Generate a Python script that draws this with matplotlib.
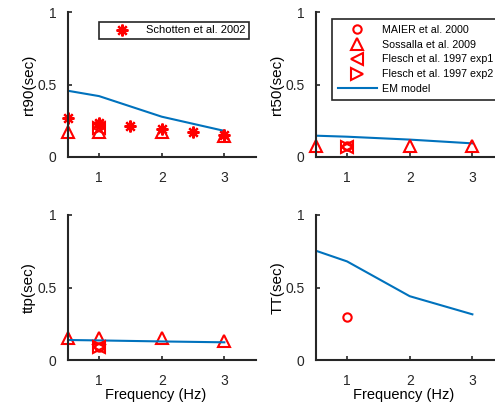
import numpy as np
import matplotlib
matplotlib.use("Agg")
import matplotlib.pyplot as plt
from matplotlib.lines import Line2D

plt.rcParams['font.family'] = ['Liberation Sans', 'DejaVu Sans']

# ======= Data =======
freq_model = [0.5, 1, 2, 3]
em_rt90 = [0.457, 0.42, 0.278, 0.18]
em_rt50 = [0.147, 0.14, 0.12, 0.094]
em_ttp = [0.138, 0.135, 0.128, 0.122]
em_tt = [0.754, 0.68, 0.44, 0.315]

schotten_freq = [0.5, 1, 1.5, 2, 2.5, 3]
schotten_rt90 = [0.27, 0.235, 0.216, 0.195, 0.17, 0.15]

sossalla_freq = [0.5, 1, 2, 3]
sossalla_rt90 = [0.17, 0.17, 0.17, 0.145]
sossalla_freq_rt50 = [0.5, 2, 3]
sossalla_rt50 = [0.076, 0.076, 0.076]
sossalla_ttp = [0.15, 0.15, 0.15, 0.13]

maier_freq = [1]
maier_rt90 = [0.225]
maier_rt50 = [0.075]
maier_ttp = [0.092]
maier_tt = [0.30]

flesch_freq = [1]
flesch1_rt90 = [0.2]
flesch2_rt90 = [0.2]
flesch1_rt50 = [0.07]
flesch2_rt50 = [0.07]
flesch1_ttp = [0.09]
flesch2_ttp = [0.09]

blue = (0, 0.447, 0.741)
red = (1, 0, 0)
dark = '#262626'

fig = plt.figure(figsize=(4.95, 4.03), dpi=100)
W, H = 495, 403


def make_ax(x0, y_top, y_bot, w=188):
    return fig.add_axes([x0 / W, 1 - y_bot / H, w / W, (y_bot - y_top) / H])


ax1 = make_ax(67.7, 12, 157)
ax2 = make_ax(315.7, 12, 157)
ax3 = make_ax(67.7, 215, 360)
ax4 = make_ax(315.7, 215, 360)

mk = dict(color=red, linestyle='none', markerfacecolor='none', markeredgewidth=1.5)
asterisk = (8, 2, 0)


def tri(ax, x, y, m):
    ax.plot(x, y, marker=m, markersize=8, clip_on=False, **mk)


def circ(ax, x, y):
    ax.plot(x, y, marker='o', markersize=6, clip_on=False, **mk)


# rt90
ax1.plot(schotten_freq, schotten_rt90, marker=asterisk, markersize=8.5, color=red,
         linestyle='none', markeredgewidth=1.6, clip_on=False, label='Schotten et al. 2002')
ax1.plot(freq_model, em_rt90, color=blue, lw=1.5)
tri(ax1, sossalla_freq, sossalla_rt90, '^')
circ(ax1, maier_freq, maier_rt90)
tri(ax1, flesch_freq, flesch1_rt90, '<')
tri(ax1, flesch_freq, flesch2_rt90, '>')
ax1.set_ylabel('rt90(sec)', fontsize=11)

# rt50
ax2.plot(freq_model, em_rt50, color=blue, lw=1.5)
tri(ax2, sossalla_freq_rt50, sossalla_rt50, '^')
circ(ax2, maier_freq, maier_rt50)
tri(ax2, flesch_freq, flesch1_rt50, '<')
tri(ax2, flesch_freq, flesch2_rt50, '>')
ax2.set_ylabel('rt50(sec)', fontsize=11)

# ttp
tri(ax3, sossalla_freq, sossalla_ttp, '^')
ax3.plot(freq_model, em_ttp, color=blue, lw=1.5)
circ(ax3, maier_freq, maier_ttp)
tri(ax3, flesch_freq, flesch1_ttp, '<')
tri(ax3, flesch_freq, flesch2_ttp, '>')
ax3.set_ylabel('ttp(sec)', fontsize=11)
ax3.set_xlabel('Frequency (Hz)', fontsize=10.5)

# TT
ax4.plot(freq_model, em_tt, color=blue, lw=1.5)
circ(ax4, maier_freq, maier_tt)
ax4.set_ylabel('TT(sec)', fontsize=11)
ax4.set_xlabel('Frequency (Hz)', fontsize=10.5)

for ax in (ax1, ax2, ax3, ax4):
    ax.set_xlim(0.5, 3.5)
    ax.set_ylim(0, 1)
    ax.set_xticks([1, 2, 3])
    ax.set_yticks([0, 0.5, 1])
    ax.set_yticklabels(['0', '0.5', '1'])
    ax.spines['top'].set_visible(False)
    ax.spines['right'].set_visible(False)
    for s in ('left', 'bottom'):
        ax.spines[s].set_linewidth(1.5)
        ax.spines[s].set_color(dark)
    ax.tick_params(direction='in', length=3, width=1.2, labelsize=10, colors=dark)
    ax.tick_params(axis='x', pad=10)
    ax.tick_params(axis='y', pad=8)
    ax.yaxis.set_label_coords(-0.167, 0.5)
    ax.xaxis.set_label_coords(0.47, -0.19)

leg1 = ax1.legend(loc='upper left', bbox_to_anchor=(0.166, 0.93), fontsize=8,
                  fancybox=False, edgecolor=dark, framealpha=1, borderaxespad=0,
                  handlelength=3.5, handletextpad=0.45, borderpad=0.3)
leg1.get_frame().set_linewidth(1.2)

handles = [
    Line2D([], [], marker='o', markersize=6, **mk),
    Line2D([], [], marker='^', markersize=8, **mk),
    Line2D([], [], marker='<', markersize=8, **mk),
    Line2D([], [], marker='>', markersize=8, **mk),
    Line2D([], [], color=blue, lw=1.5),
]
labels = ['MAIER et al. 2000', 'Sossalla et al. 2009', 'Flesch et al. 1997 exp1',
          'Flesch et al. 1997 exp2', 'EM model']
leg2 = ax2.legend(handles, labels, loc='upper left', bbox_to_anchor=(0.085, 0.952),
                  fontsize=7.7, fancybox=False, edgecolor=dark, framealpha=1,
                  borderaxespad=0, handlelength=3.7, handletextpad=0.45,
                  labelspacing=0.45, borderpad=0.55)
leg2.get_frame().set_linewidth(1.2)

fig.savefig('out.png', dpi=100)
